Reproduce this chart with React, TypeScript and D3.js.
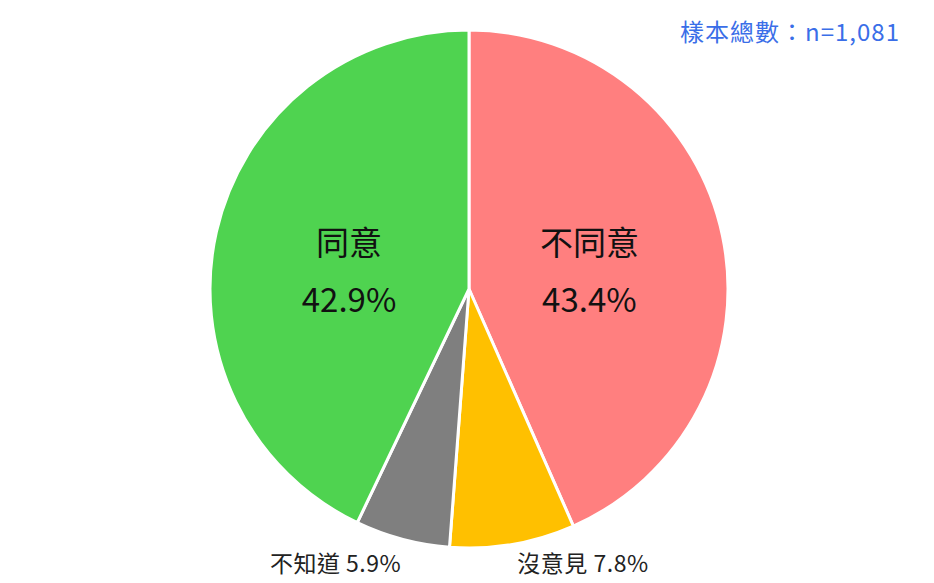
import React from "react";
import * as d3 from "d3";

const categories = ["不同意", "沒意見", "不知道", "同意"];
const values = [43.4, 7.8, 5.9, 42.9];
const colors = ["#ff7f7f", "#ffc000", "#7f7f7f", "#4fd350"];

const width = 934;
const height = 583;
const cx = 469;
const cy = 289;
const radius = 259;

export default function App() {
  const pie = d3.pie<number>().sort(null).value((d) => d);
  const arcs = pie(values);
  const arc = d3.arc<d3.PieArcDatum<number>>().innerRadius(0).outerRadius(radius);
  const inner = d3.arc<d3.PieArcDatum<number>>().innerRadius(radius * 0.475).outerRadius(radius * 0.475);
  const outer = d3.arc<d3.PieArcDatum<number>>().innerRadius(radius * 1.06).outerRadius(radius * 1.06);

  const font = "'Noto Sans CJK TC', 'Noto Sans', sans-serif";

  return (
    <svg width={width} height={height} style={{ position: "absolute", left: 0, top: 0, background: "#fff" }}>
      <text x={900} y={41} textAnchor="end" fontFamily={font} fontSize={24} letterSpacing={1} fill="#3a6ee8">
        樣本總數：n=1,081
      </text>
      <g transform={`translate(${cx},${cy})`}>
        {arcs.map((a, i) => (
          <path key={i} d={arc(a) || ""} fill={colors[i]} stroke="#fff" strokeWidth={3} />
        ))}
        {arcs.map((a, i) => {
          const big = values[i] > 20;
          if (big) {
            const [x] = inner.centroid(a);
            return (
              <g key={"l" + i} fontFamily={font} fontSize={33} fill="#111" textAnchor="middle">
                <text x={x} y={-34}>{categories[i]}</text>
                <text x={x} y={23}>{values[i].toFixed(1)}%</text>
              </g>
            );
          }
          const [x] = outer.centroid(a);
          const mid = (a.startAngle + a.endAngle) / 2;
          return (
            <text
              key={"l" + i}
              x={x + (mid > Math.PI ? 3 : 2)}
              y={radius + 24}
              fontFamily={font}
              fontSize={23}
              letterSpacing={0.5}
              fill="#222"
              textAnchor={mid > Math.PI ? "end" : "start"}
            >
              {categories[i]} {values[i].toFixed(1)}%
            </text>
          );
        })}
      </g>
    </svg>
  );
}
